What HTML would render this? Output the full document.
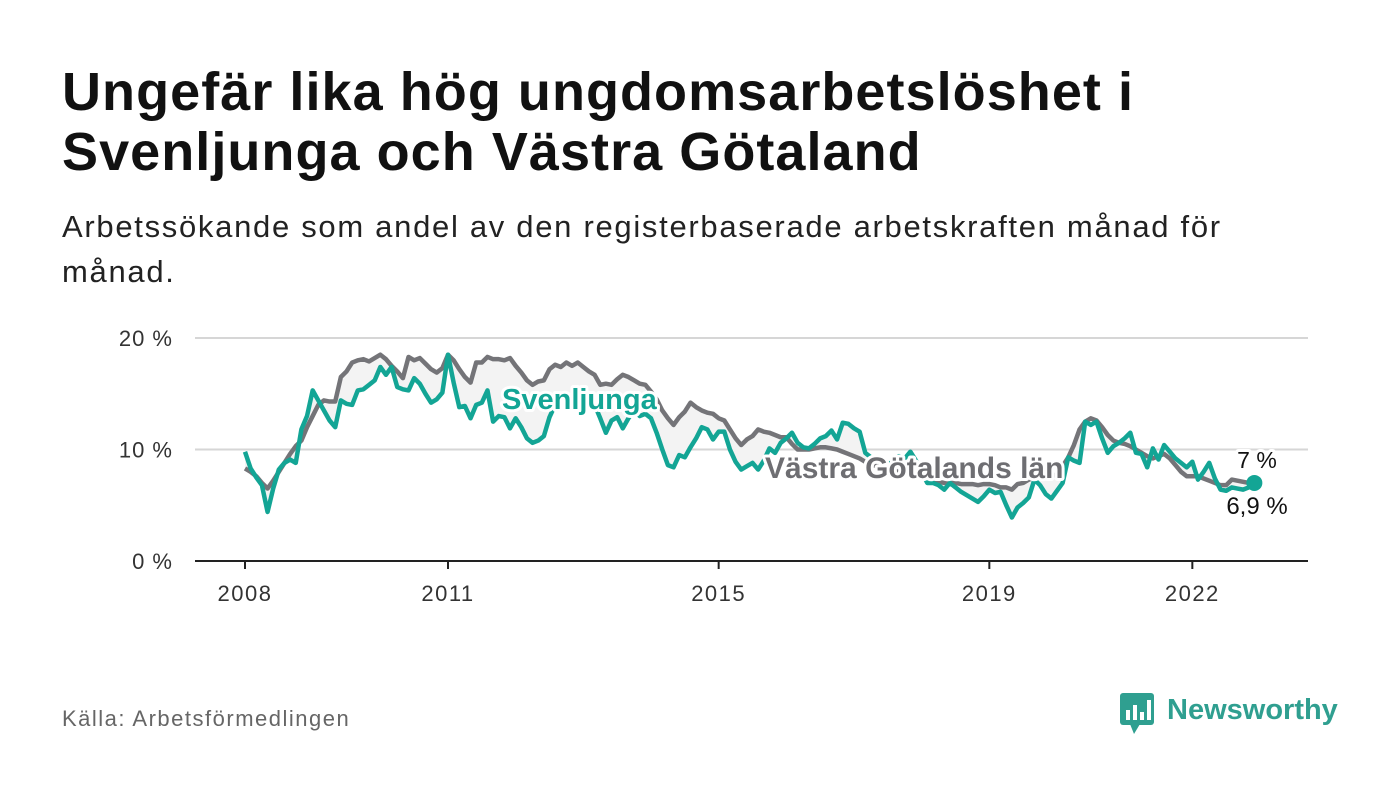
<!DOCTYPE html>
<html><head><meta charset="utf-8">
<style>
body{margin:0;background:#fff;width:1400px;height:794px;overflow:hidden;font-family:"Liberation Sans",sans-serif;color:#111;}
h1{position:absolute;left:62px;top:62px;margin:0;font-size:54px;line-height:60px;font-weight:bold;color:#111;letter-spacing:1.05px;}
.sub{position:absolute;left:62px;top:204px;margin:0;font-size:31px;line-height:45px;color:#222;letter-spacing:1.7px;}
.src{position:absolute;left:62px;top:706px;font-size:22px;color:#666;letter-spacing:1.5px;}
svg{position:absolute;left:0;top:0;}
</style></head><body>
<h1>Ungefär lika hög ungdomsarbetslöshet i<br>Svenljunga och Västra Götaland</h1>
<p class="sub">Arbetssökande som andel av den registerbaserade arbetskraften månad för<br>månad.</p>
<div class="src">Källa: Arbetsförmedlingen</div>
<svg id="chart" width="1400" height="794"></svg>
<script>
const yTicks=[0,10,20];
const yTickLabels=["0 %","10 %","20 %"];
const xTickYears=[2008,2011,2015,2019,2022];
const startYear=2008;
const svenljunga=[9.8,8.3,7.5,6.8,4.4,6.5,8.2,8.8,9.1,8.8,11.8,13.0,15.3,14.4,13.5,12.6,12.0,14.4,14.1,14.0,15.3,15.4,15.8,16.2,17.4,16.7,17.4,15.6,15.4,15.3,16.4,15.9,15.0,14.2,14.5,15.1,18.5,16.0,13.8,13.9,12.8,14.0,14.2,15.3,12.5,13.0,12.9,11.9,12.8,12.0,11.0,10.6,10.8,11.2,12.9,14.0,14.5,15.0,14.6,14.0,14.5,13.8,14.0,12.8,11.5,12.6,12.9,11.9,12.8,13.5,13.0,13.2,12.8,11.5,10.0,8.6,8.4,9.5,9.3,10.2,11.0,12.0,11.8,10.9,11.6,11.6,10.0,8.9,8.2,8.5,8.8,8.2,9.0,10.1,9.7,10.6,11.0,11.5,10.6,10.2,10.1,10.5,11.0,11.2,11.7,10.9,12.4,12.3,11.9,11.6,9.7,9.3,9.0,8.8,8.6,9.0,9.4,9.2,9.8,9.0,8.0,7.0,7.0,6.8,6.4,7.0,6.6,6.2,5.9,5.6,5.3,5.8,6.4,6.1,6.2,5.0,3.9,4.8,5.2,5.7,7.3,6.8,6.0,5.6,6.3,7.0,9.3,9.0,8.8,12.5,12.2,12.5,11.0,9.7,10.3,10.6,11.0,11.5,9.7,9.6,8.4,10.1,9.1,10.4,9.8,9.2,8.8,8.4,8.9,7.3,8.0,8.8,7.4,6.4,6.3,6.6,6.5,6.4,6.6,7.0];
const vastraGotaland=[8.3,8.0,7.6,7.0,6.5,7.2,8.0,8.8,9.6,10.3,10.8,12.0,13.0,14.0,14.4,14.3,14.3,16.5,17.0,17.8,18.0,18.1,17.9,18.2,18.5,18.1,17.5,17.0,16.4,18.3,18.0,18.2,17.7,17.2,16.9,17.3,18.5,18.0,17.2,16.5,16.0,17.8,17.8,18.3,18.1,18.1,18.0,18.2,17.5,16.9,16.2,15.8,16.1,16.2,17.2,17.6,17.4,17.8,17.5,17.8,17.4,17.0,16.7,15.8,15.9,15.8,16.3,16.7,16.5,16.2,15.9,15.8,15.2,14.5,13.5,12.8,12.2,12.9,13.4,14.2,13.8,13.5,13.3,13.2,12.8,12.6,11.8,11.0,10.4,10.9,11.2,11.8,11.6,11.5,11.3,11.1,11.1,10.5,10.0,10.0,10.0,10.1,10.2,10.2,10.1,10.0,9.8,9.6,9.4,9.2,8.9,8.7,8.5,8.4,8.2,8.1,8.0,7.9,7.8,7.6,7.5,7.3,7.2,7.1,7.0,7.0,7.0,6.9,6.9,6.9,6.8,6.9,6.9,6.8,6.6,6.6,6.4,6.9,7.0,7.3,7.5,7.5,7.6,7.6,7.8,8.5,9.3,10.4,11.8,12.5,12.8,12.6,12.0,11.3,10.8,10.6,10.5,10.3,10.0,9.7,9.4,9.2,9.4,9.6,9.2,8.6,8.0,7.6,7.6,7.6,7.4,7.2,7.0,6.8,6.8,7.3,7.2,7.1,7.0,6.9];
const lastLabels=["7 %","6,9 %"];

const NS="http://www.w3.org/2000/svg";
const svg=document.getElementById('chart');
const X0=195,X1=1308,Y0=561,Y20=338;
const x=i=>245+i*(203/36);
const xYear=yr=>x((yr-startYear)*12);
const y=v=>Y0-(v/20)*(Y0-Y20);
function mk(tag,attrs){const e=document.createElementNS(NS,tag);for(const k in attrs)e.setAttribute(k,attrs[k]);svg.appendChild(e);return e;}

yTicks.forEach((t,k)=>{
  if(t>0){const g=mk('line',{x1:X0,x2:X1,y1:y(t),y2:y(t),stroke:'#d6d6d6','stroke-width':2});
  
  }
  const tx=mk('text',{x:173,y:y(t)+8,'text-anchor':'end','font-size':22,'letter-spacing':1,fill:'#333','font-family':'Liberation Sans, sans-serif'});
  tx.textContent=yTickLabels[k];
  
  
});
const ax=mk('line',{x1:X0,x2:X1,y1:Y0,y2:Y0,stroke:'#222','stroke-width':2});


xTickYears.forEach(yr=>{
  const tk=mk('line',{x1:xYear(yr),x2:xYear(yr),y1:Y0,y2:Y0+8,stroke:'#222','stroke-width':2});
  
  
  const tx=mk('text',{x:xYear(yr),y:601,'text-anchor':'middle','font-size':22,'letter-spacing':1.5,fill:'#333','font-family':'Liberation Sans, sans-serif'});
  tx.textContent=yr;
  
  
});
let pts=svenljunga.map((v,i)=>x(i)+','+y(v));
for(let i=vastraGotaland.length-1;i>=0;i--)pts.push(x(i)+','+y(vastraGotaland[i]));
const area=mk('polygon',{points:pts.join(' '),fill:'#f3f3f3'});


const gl=mk('polyline',{points:vastraGotaland.map((v,i)=>x(i)+','+y(v)).join(' '),fill:'none',stroke:'#747478','stroke-width':4.5,'stroke-linejoin':'round'});


const tl=mk('polyline',{points:svenljunga.map((v,i)=>x(i)+','+y(v)).join(' '),fill:'none',stroke:'#13a595','stroke-width':4.5,'stroke-linejoin':'round'});


const n=svenljunga.length-1;
const dot=mk('circle',{cx:x(n),cy:y(svenljunga[n]),r:8,fill:'#13a595'});


function lab(t,xx,yy,fill,size,weight,anchor,name){
  const e=mk('text',{x:xx,y:yy,'font-size':size,'font-weight':weight,fill:fill,'text-anchor':anchor,stroke:'#fff','stroke-width':6,'paint-order':'stroke','stroke-linejoin':'round','font-family':'Liberation Sans, sans-serif'});
  e.textContent=t;
  
  
}
lab('Svenljunga',502,409,'#13a595',29,'bold','start','svenljunga-label');
lab('Västra Götalands län',765,478,'#6e6e72',30,'bold','start','vastra-gotaland-label');
lab(lastLabels[0],1257,468,'#111',23,'normal','middle','end-value-gotaland');
lab(lastLabels[1],1257,514,'#111',24,'normal','middle','end-value-svenljunga');
</script>
<svg width="1400" height="794" style="pointer-events:none">
<rect x="1120" y="693" width="34" height="32" rx="3" fill="#2f9f90"/>
<polygon points="1130,724 1140,724 1134,734" fill="#2f9f90"/>
<rect x="1126" y="710" width="4" height="10" fill="#fff"/><rect x="1133" y="705" width="4" height="15" fill="#fff"/><rect x="1140" y="712" width="4" height="8" fill="#fff"/><rect x="1147" y="700" width="4" height="20" fill="#fff"/>
<text x="1167" y="719" font-size="29" font-weight="bold" fill="#2f9f90" font-family="Liberation Sans, sans-serif">Newsworthy</text>
</svg>
</body></html>
